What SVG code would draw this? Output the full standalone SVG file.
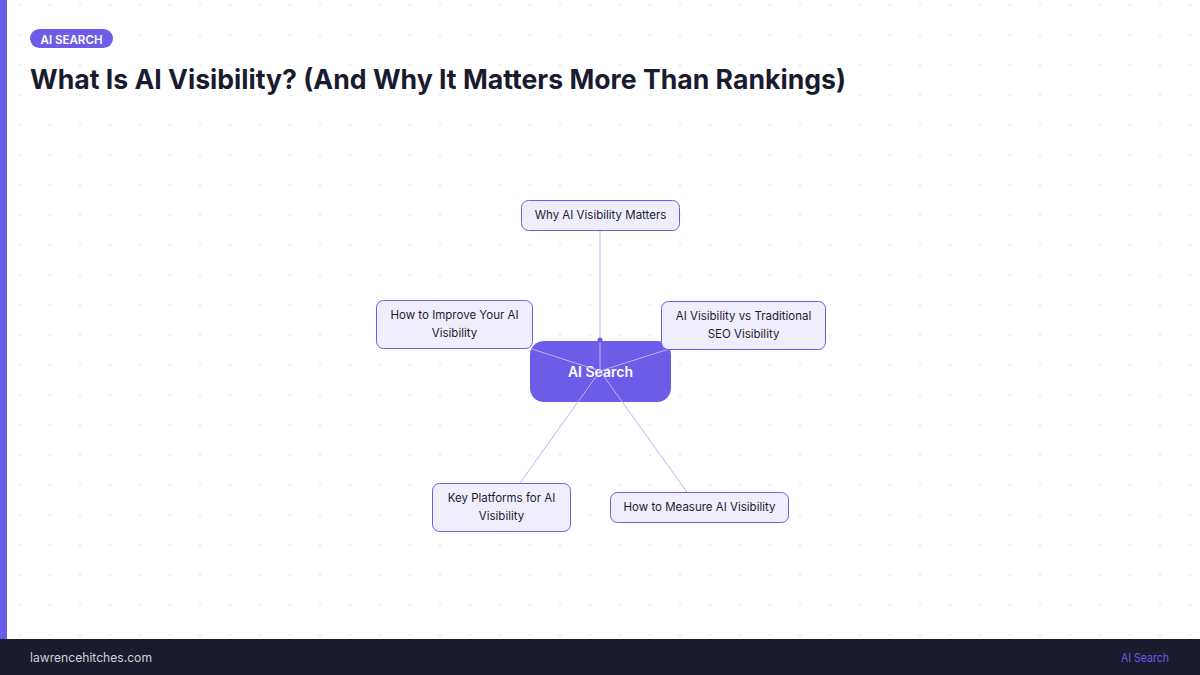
<svg xmlns="http://www.w3.org/2000/svg" width="1200" height="675" viewBox="0 0 1200 675">
<defs>
<pattern id="grid" x="0" y="0" width="30" height="30" patternUnits="userSpaceOnUse">
<path d="M18.5 5h3M20 3.5v3" stroke="#ececf3" stroke-width="1"/>
</pattern>
</defs>
<style>
.node rect{fill:#f0eefc;stroke:#6c5ce7;stroke-width:1}
.node text{font-family:Inter,"Noto Sans",sans-serif;font-size:11.5px;fill:#1b1b2f;text-anchor:middle}
.conn line{stroke:#bdb5f6;stroke-width:1}
</style>
<rect width="1200" height="675" fill="#ffffff"/>
<rect width="1200" height="639" fill="url(#grid)"/>
<rect x="0" y="0" width="7" height="639" fill="#6c5ce7"/>
<g id="tag">
<rect x="30" y="29" width="83" height="19" rx="9.5" fill="#6c5ce7"/>
<text x="71.5" y="43.5" font-family="Inter,'Noto Sans',sans-serif" font-size="12" font-weight="600" fill="#ffffff" text-anchor="middle" textLength="62" lengthAdjust="spacingAndGlyphs">AI SEARCH</text>
</g>
<text id="title" x="30" y="89" font-family="Inter,'Noto Sans',sans-serif" font-size="27" font-weight="700" fill="#1b1b2f" textLength="816" lengthAdjust="spacingAndGlyphs">What Is AI Visibility? (And Why It Matters More Than Rankings)</text>
<g id="center">
<rect x="530" y="341" width="141" height="61" rx="14" fill="#6c5ce7"/>
<text x="600.5" y="376.5" font-family="Inter,'Noto Sans',sans-serif" font-size="14" font-weight="600" fill="#ffffff" text-anchor="middle">AI Search</text>
</g>
<g id="connectors" class="conn">
<line x1="600" y1="371" x2="600" y2="230"/>
<line x1="600" y1="371" x2="532" y2="349"/>
<line x1="600" y1="371" x2="669" y2="349"/>
<line x1="600" y1="371" x2="520" y2="483"/>
<line x1="600" y1="371" x2="687" y2="492"/>
<circle cx="600" cy="340" r="2.5" fill="#6c5ce7"/>
</g>
<g id="n1" class="node">
<rect x="521.5" y="200.5" width="158" height="30" rx="7"/>
<text x="600.5" y="219">Why AI Visibility Matters</text>
</g>
<g id="n2" class="node">
<rect x="376.5" y="300.5" width="156" height="48" rx="7"/>
<text x="454.5" y="319">How to Improve Your AI</text>
<text x="454.5" y="337">Visibility</text>
</g>
<g id="n3" class="node">
<rect x="661.5" y="301.5" width="164" height="48" rx="7"/>
<text x="743.5" y="320">AI Visibility vs Traditional</text>
<text x="743.5" y="338">SEO Visibility</text>
</g>
<g id="n4" class="node">
<rect x="432.5" y="483.5" width="138" height="48" rx="7"/>
<text x="501.5" y="502">Key Platforms for AI</text>
<text x="501.5" y="520">Visibility</text>
</g>
<g id="n5" class="node">
<rect x="610.5" y="492.5" width="178" height="30" rx="7"/>
<text x="699.5" y="511">How to Measure AI Visibility</text>
</g>
<g id="footer">
<rect x="0" y="639" width="1200" height="36" fill="#1b1b2f"/>
<text x="30" y="662" font-family="Inter,'Noto Sans',sans-serif" font-size="12.5" fill="#d0d0da" textLength="122" lengthAdjust="spacingAndGlyphs">lawrencehitches.com</text>
<text x="1169" y="662" font-family="Inter,'Noto Sans',sans-serif" font-size="12" fill="#6c5ce7" text-anchor="end" textLength="48" lengthAdjust="spacingAndGlyphs">AI Search</text>
</g>
</svg>
